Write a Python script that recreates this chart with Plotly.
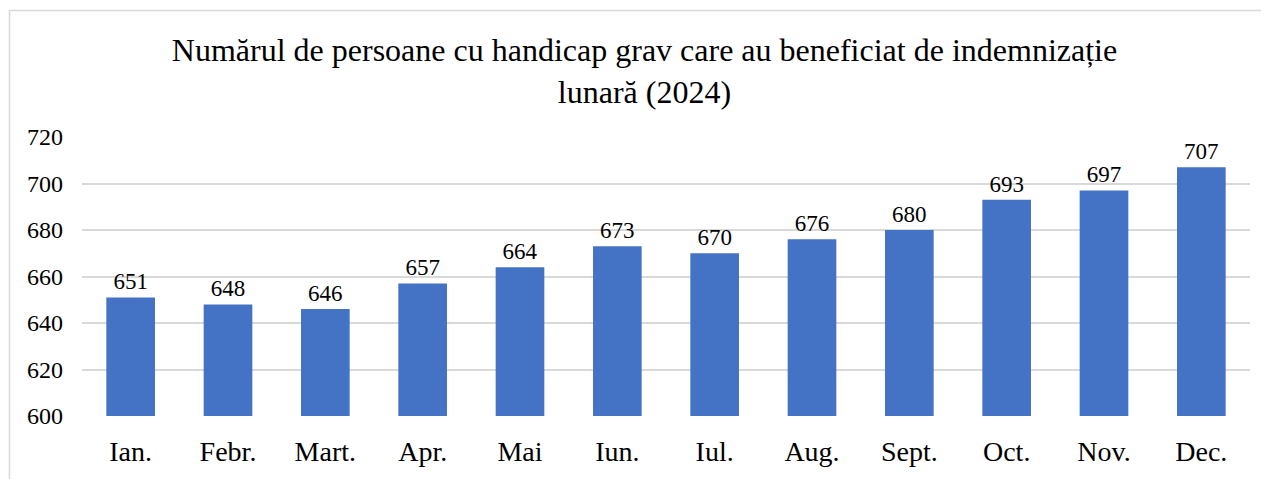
import plotly.graph_objects as go

months = ["Ian.", "Febr.", "Mart.", "Apr.", "Mai", "Iun.", "Iul.", "Aug.", "Sept.", "Oct.", "Nov.", "Dec."]
values = [651, 648, 646, 657, 664, 673, 670, 676, 680, 693, 697, 707]
y_ticks = [600, 620, 640, 660, 680, 700, 720]
title_text = "Numărul de persoane cu handicap grav care au beneficiat de indemnizație<br>lunară (2024)"

# page body has an 8px default margin, so the figure is sized to fill the rest
W, H = 1261, 471
ML, MR, MT, MB = 74, 19, 129, 63
pw, ph = W - ML - MR, H - MT - MB

def px_to_paper_x(px):
    return (px - ML) / pw

def px_to_paper_y(py):
    return (H - MB - py) / ph

FONT = "Times New Roman, Liberation Serif, serif"

fig = go.Figure(go.Bar(
    x=months, y=values,
    marker=dict(color="#4472C4", line=dict(width=0)),
    text=values, textposition="outside", cliponaxis=False,
    textfont=dict(family=FONT, size=23, color="#000000"),
))

fig.update_layout(
    width=W, height=H,
    margin=dict(l=ML, r=MR, t=MT, b=MB, autoexpand=False),
    paper_bgcolor="white", plot_bgcolor="white",
    bargap=0.5,
    showlegend=False,
    font=dict(family=FONT, color="#000000"),
    title=dict(text=title_text, x=636.5 / W, xanchor="center", xref="container",
               y=1 - 53 / H, yanchor="top", yref="container", automargin=False,
               font=dict(family=FONT, size=32, color="#000000")),
    xaxis=dict(tickfont=dict(family=FONT, size=28, color="#000000"),
               showgrid=False, showline=False, ticks="outside", ticklen=10,
               tickcolor="rgba(0,0,0,0)", automargin=False),
    yaxis=dict(range=[600, 720], tickvals=y_ticks,
               tickfont=dict(family=FONT, size=24, color="#000000"),
               showgrid=True, gridcolor="#D9D9D9", gridwidth=1.5,
               zeroline=False, showline=False, ticklabelstandoff=18,
               automargin=False),
    shapes=[dict(type="rect", xref="paper", yref="paper",
                 x0=px_to_paper_x(1.5), x1=px_to_paper_x(1290),
                 y0=px_to_paper_y(500), y1=px_to_paper_y(2.5),
                 line=dict(color="#D9D9D9", width=1.5), fillcolor="rgba(0,0,0,0)",
                 layer="below")],
)

fig.write_html("out.html")
